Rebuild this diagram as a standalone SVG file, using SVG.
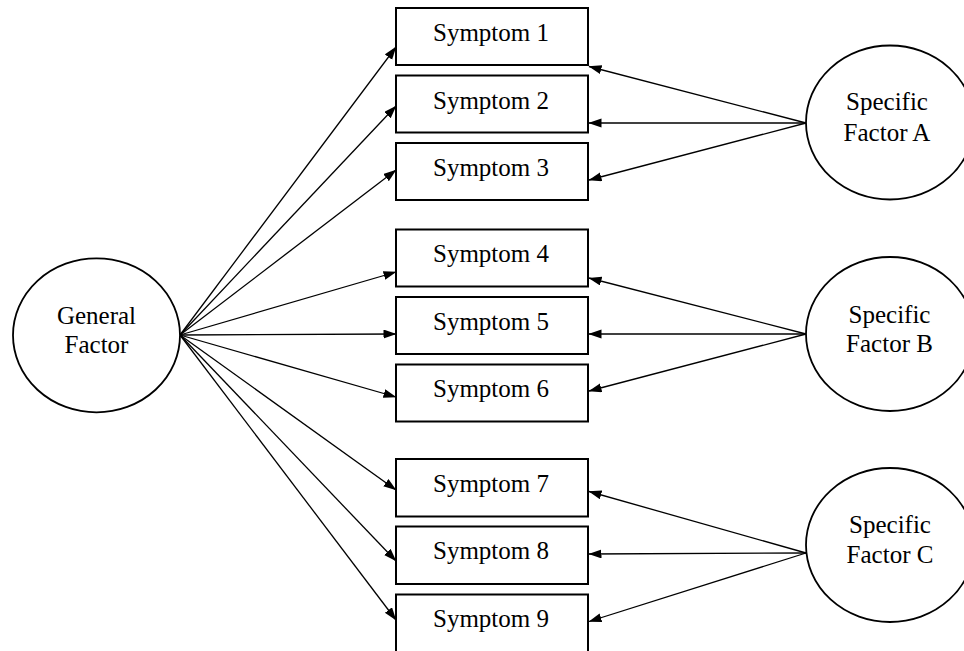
<svg xmlns="http://www.w3.org/2000/svg" width="964" height="651" viewBox="0 0 964 651">
<style>
.box{fill:#fff;stroke:#000;stroke-width:2}
.fac{fill:#fff;stroke:#000;stroke-width:1.8}
.t{font-family:"Liberation Serif","Times New Roman",serif;font-size:25px;fill:#000;text-anchor:middle}
.c{stroke:#000;stroke-width:1.3;fill:none;marker-end:url(#ah)}
</style>
<defs>
<marker id="ah" markerUnits="userSpaceOnUse" markerWidth="13" markerHeight="10" refX="12.5" refY="4.5" orient="auto">
<path d="M0,0 L13,4.5 L0,9 z" fill="#000"/>
</marker>
</defs>
<rect width="964" height="651" fill="#fff"/>
<g id="connectors">
<line class="c" x1="180" y1="335" x2="396" y2="47"/>
<line class="c" x1="180" y1="335" x2="396" y2="106"/>
<line class="c" x1="180" y1="335" x2="396" y2="170"/>
<line class="c" x1="180" y1="335" x2="396" y2="272"/>
<line class="c" x1="180" y1="335" x2="396" y2="334"/>
<line class="c" x1="180" y1="335" x2="396" y2="397"/>
<line class="c" x1="180" y1="335" x2="396" y2="490"/>
<line class="c" x1="180" y1="335" x2="396" y2="561"/>
<line class="c" x1="180" y1="335" x2="396" y2="620"/>
<line class="c" x1="806" y1="123" x2="589" y2="66.5"/>
<line class="c" x1="806" y1="123" x2="589" y2="123"/>
<line class="c" x1="806" y1="123" x2="589" y2="180"/>
<line class="c" x1="806" y1="334" x2="589" y2="278"/>
<line class="c" x1="806" y1="334" x2="589" y2="334"/>
<line class="c" x1="806" y1="334" x2="589" y2="391"/>
<line class="c" x1="806" y1="553" x2="589" y2="491.5"/>
<line class="c" x1="806" y1="553" x2="589" y2="554"/>
<line class="c" x1="806" y1="553" x2="589" y2="621.5"/>
</g>
<g id="s1"><rect class="box" x="396" y="8" width="192" height="57"/><text class="t" x="491" y="41">Symptom 1</text></g>
<g id="s2"><rect class="box" x="396" y="75.5" width="192" height="57"/><text class="t" x="491" y="108.5">Symptom 2</text></g>
<g id="s3"><rect class="box" x="396" y="143" width="192" height="57"/><text class="t" x="491" y="175.5">Symptom 3</text></g>
<g id="s4"><rect class="box" x="396" y="229.5" width="192" height="57"/><text class="t" x="491" y="262">Symptom 4</text></g>
<g id="s5"><rect class="box" x="396" y="297" width="192" height="57"/><text class="t" x="491" y="329.5">Symptom 5</text></g>
<g id="s6"><rect class="box" x="396" y="364.5" width="192" height="57"/><text class="t" x="491" y="397">Symptom 6</text></g>
<g id="s7"><rect class="box" x="396" y="459" width="192" height="57.5"/><text class="t" x="491" y="491.5">Symptom 7</text></g>
<g id="s8"><rect class="box" x="396" y="526.5" width="192" height="57.5"/><text class="t" x="491" y="558.5">Symptom 8</text></g>
<g id="s9"><rect class="box" x="396" y="594.5" width="192" height="60"/><text class="t" x="491" y="626.5">Symptom 9</text></g>
<g id="general"><ellipse class="fac" cx="96.5" cy="335.3" rx="83.5" ry="77"/><text class="t" x="96.5" y="324">General</text><text class="t" x="96.5" y="352.5">Factor</text></g>
<g id="specA"><ellipse class="fac" cx="890" cy="122.5" rx="84" ry="77"/><text class="t" x="887" y="110">Specific</text><text class="t" x="887" y="141">Factor A</text></g>
<g id="specB"><ellipse class="fac" cx="890" cy="334" rx="84" ry="77"/><text class="t" x="889.5" y="322.5">Specific</text><text class="t" x="889.5" y="352">Factor B</text></g>
<g id="specC"><ellipse class="fac" cx="890" cy="545" rx="84" ry="77"/><text class="t" x="890" y="533">Specific</text><text class="t" x="890" y="563">Factor C</text></g>
</svg>
